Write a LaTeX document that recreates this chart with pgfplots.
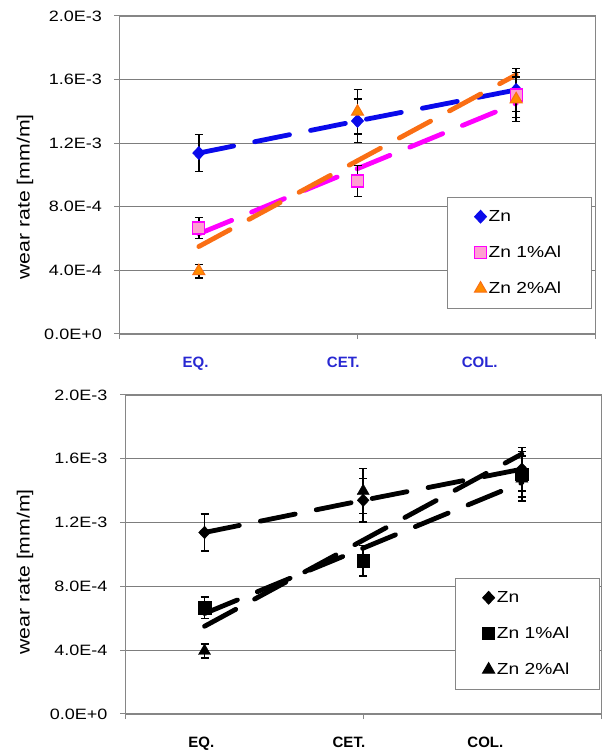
\documentclass[border=0pt]{standalone}
\usepackage{fontspec}
\setmainfont{Liberation Sans}
\newfontfamily\wide{Liberation Sans}[FakeStretch=1.2]
\usepackage{pgfplots}
\usepackage{pgfplotstable}
\pgfplotsset{compat=1.18}

\definecolor{zblue}{RGB}{10,10,235}
\definecolor{zmag}{RGB}{255,0,255}
\definecolor{zpink}{RGB}{255,160,210}
\definecolor{zorange}{RGB}{250,110,20}
\definecolor{zorfill}{RGB}{255,140,0}
\definecolor{catblue}{RGB}{40,40,210}
\definecolor{axgray}{RGB}{134,134,134}
\definecolor{gridgray}{RGB}{125,125,125}

% wear rate per structure (x: 0.5 EQ, 1.5 CET, 2.5 COL)
\pgfplotstableread{
x   y        err
0.5 1.138e-3 1.15e-4
1.5 1.340e-3 1.37e-4
2.5 1.535e-3 1.36e-4
}\zn
\pgfplotstableread{
x   y        err
0.5 6.67e-4  6.7e-5
1.5 9.62e-4  9.6e-5
2.5 1.503e-3 1.43e-4
}\znA
\pgfplotstableread{
x   y        err
0.5 3.95e-4  4.3e-5
1.5 1.398e-3 1.41e-4
2.5 1.476e-3 1.41e-4
}\znB

\pgfplotsset{
  panel/.style={
    scale only axis, width=476pt,
    xmin=0, xmax=3, ymin=0, ymax=0.002,
    axis line style={draw=axgray, line width=1.1pt},
    ymajorgrids, grid style={draw=gridgray, line width=1pt},
    ytick={0,0.0004,0.0008,0.0012,0.0016,0.002},
    yticklabels={0.0E+0,4.0E-4,8.0E-4,1.2E-3,1.6E-3,2.0E-3},
    scaled y ticks=false,
    tick pos=left, tick align=outside, major tick length=5pt,
    tick style={draw=axgray, line width=1pt},
    xtick={0,1.5,3}, xticklabels={},
    extra x ticks={0.48,1.41,2.27},
    extra x tick labels={EQ.,CET.,COL.},
    extra x tick style={major tick length=0pt, grid=none},
    yticklabel style={font=\wide\fontsize{15}{18}\selectfont, anchor=east, inner sep=0pt, xshift=-12.5pt},
    xticklabel style={font=\bfseries\fontsize{15}{18}\selectfont, anchor=base, yshift=-33.4pt},
    ylabel={wear rate [mm/m]},
    legend image code/.code={\draw[#1] plot coordinates {(0pt,0pt)};},
    legend cell align=left,
    legend style={anchor=north west, draw=axgray, line width=1pt, fill=white,
      inner xsep=27pt, inner ysep=11pt, row sep=19pt,
      font=\wide\fontsize{16}{18}\selectfont},
  },
  trend/.style={line width=4.8pt, line cap=round, dash pattern=on 35.5pt off 21.5pt, forget plot},
  ebar/.style={draw=none, forget plot, error bars/.cd, y dir=both, y explicit,
    error bar style={draw=black, solid, line width=1.4pt},
    error mark options={rotate=90, mark size=4pt, draw=black, solid, line width=1.4pt}},
}

\begin{document}
\begin{tikzpicture}
\useasboundingbox (0,0) rectangle (606pt,753pt);

% top panel: colour
\begin{axis}[panel, height=318pt, at={(119.5pt,419pt)}, anchor=south west,
    xticklabel style={text=catblue},
    ylabel style={font=\wide\fontsize{17.7}{20}\selectfont, at={(axis description cs:-0.1985,0.431)}, anchor=center},
    legend style={at={(0.688,0.431)}}]
\addplot[trend, zblue] table[x=x,y=y] {\zn};
\addplot[trend, zmag] coordinates {(0.5,6.3e-4) (2.5,1.45e-3)};
\addplot[trend, zorange] coordinates {(0.5,5.5e-4) (2.5,1.63e-3)};

\addplot[only marks, mark=diamond*, mark size=6.3pt, mark options={xscale=1.25, fill=zblue, draw=zblue, line width=1pt}] table[x=x,y=y] {\zn};
\addlegendentry{\makebox[74pt][l]{Zn}}
\addplot[only marks, mark=square*, mark size=6pt, mark options={fill=zpink, draw=zmag, line width=1.2pt}] table[x=x,y=y] {\znA};
\addlegendentry{\makebox[74pt][l]{Zn 1\%Al}}
\addplot[only marks, mark=triangle*, mark size=7pt, mark options={fill=zorfill, draw=zorange, line width=1pt}] table[x=x,y=y] {\znB};
\addlegendentry{\makebox[74pt][l]{Zn 2\%Al}}

\addplot[ebar] table[x=x,y=y,y error=err] {\zn};
\addplot[ebar] table[x=x,y=y,y error=err] {\znA};
\addplot[ebar] table[x=x,y=y,y error=err] {\znB};
\end{axis}

% bottom panel: black
\begin{axis}[panel, height=319pt, at={(125.2pt,39pt)}, anchor=south west,
    ylabel style={font=\wide\fontsize{17.7}{20}\selectfont, at={(axis description cs:-0.2104,0.446)}, anchor=center},
    legend style={at={(0.6925,0.4263)}}]
\addplot[trend, black] table[x=x,y=y] {\zn};
\addplot[trend, black] coordinates {(0.5,6.3e-4) (2.5,1.45e-3)};
\addplot[trend, black] coordinates {(0.5,5.5e-4) (2.5,1.63e-3)};

\addplot[only marks, mark=diamond*, mark size=6.3pt, mark options={xscale=1.25, fill=black, draw=black}] table[x=x,y=y] {\zn};
\addlegendentry{\makebox[74pt][l]{Zn}}
\addplot[only marks, mark=square*, mark size=6.3pt, mark options={fill=black, draw=black}] table[x=x,y=y] {\znA};
\addlegendentry{\makebox[74pt][l]{Zn 1\%Al}}
\addplot[only marks, mark=triangle*, mark size=7pt, mark options={fill=black, draw=black}] table[x=x,y=y] {\znB};
\addlegendentry{\makebox[74pt][l]{Zn 2\%Al}}

\addplot[ebar] table[x=x,y=y,y error=err] {\zn};
\addplot[ebar] table[x=x,y=y,y error=err] {\znA};
\addplot[ebar] table[x=x,y=y,y error=err] {\znB};
\end{axis}
\end{tikzpicture}
\end{document}
